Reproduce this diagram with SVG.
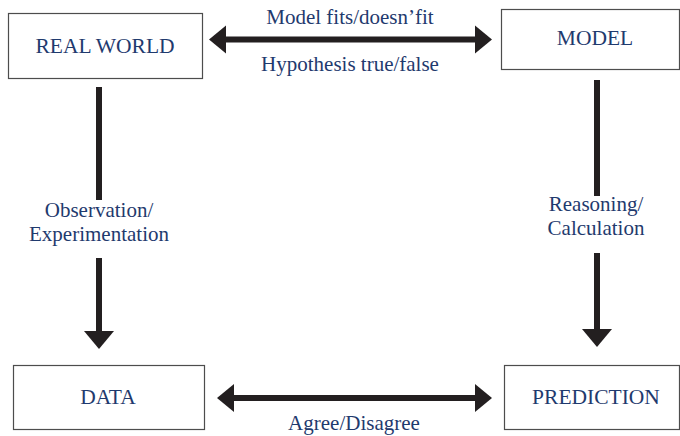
<svg xmlns="http://www.w3.org/2000/svg" width="680" height="436" viewBox="0 0 680 436">
<style>
.box{fill:#fff;stroke:#4d4d4d;stroke-width:1.2}
.t{font-family:"Liberation Serif","Times New Roman",serif;fill:#1f3a6e;text-anchor:middle}
.node{font-size:21.5px}
.lbl{font-size:21px}
.ln{stroke:#231f20;stroke-width:6;fill:none}
.hd{fill:#231f20}
</style>
<rect width="680" height="436" fill="#fff"/>
<g id="real-world"><rect class="box" x="8.5" y="13.5" width="194" height="65"/><text class="t node" x="105" y="53">REAL WORLD</text></g>
<g id="model"><rect class="box" x="501.5" y="9.5" width="178" height="60"/><text class="t node" x="595" y="45">MODEL</text></g>
<g id="data"><rect class="box" x="13.5" y="365.5" width="191" height="64"/><text class="t node" x="108" y="404">DATA</text></g>
<g id="prediction"><rect class="box" x="504.5" y="365.5" width="175" height="64"/><text class="t node" x="596" y="404">PREDICTION</text></g>
<g id="connectors">
<line class="ln" x1="224" y1="39.5" x2="477" y2="39.5"/>
<polygon class="hd" points="209,39.5 226,25.5 226,53.5"/>
<polygon class="hd" points="492,39.5 475,25.5 475,53.5"/>
<line class="ln" x1="232" y1="398" x2="477" y2="398"/>
<polygon class="hd" points="217,398 234,384 234,412"/>
<polygon class="hd" points="492,398 475,384 475,412"/>
<line class="ln" x1="99" y1="87" x2="99" y2="200"/>
<line class="ln" x1="99" y1="258" x2="99" y2="333"/>
<polygon class="hd" points="99,349 84,331 114,331"/>
<line class="ln" x1="597" y1="80" x2="597" y2="196"/>
<line class="ln" x1="597" y1="253" x2="597" y2="331"/>
<polygon class="hd" points="597,347 582,329 612,329"/>
</g>
<g id="labels">
<text class="t lbl" x="350" y="24">Model fits/doesn’fit</text>
<text class="t lbl" x="350" y="71">Hypothesis true/false</text>
<text class="t lbl" x="99" y="217">Observation/</text>
<text class="t lbl" x="99" y="241">Experimentation</text>
<text class="t lbl" x="596" y="211">Reasoning/</text>
<text class="t lbl" x="596" y="235">Calculation</text>
<text class="t lbl" x="354" y="430">Agree/Disagree</text>
</g>
</svg>
